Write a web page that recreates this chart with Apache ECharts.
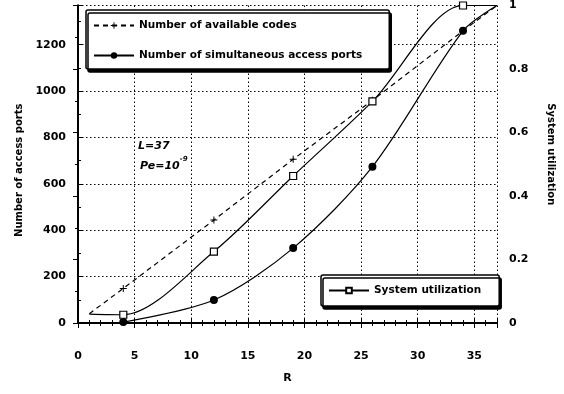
<!DOCTYPE html>
<html>
<head>
<meta charset="utf-8">
<script src="https://cdn.jsdelivr.net/npm/echarts@6/dist/echarts.min.js"></script>
<style>html,body{margin:0;padding:0;background:#fff;overflow:hidden}#c{width:564px;height:394px}</style>
</head>
<body>
<div id="c"></div>
<script>
// ---- data ----
const rValues = [1, 4, 12, 19, 26, 34, 37];
const availableCodes = [40, 149, 444, 706, 960, 1260, 1369];
const rPorts = [4, 12, 19, 26, 34, 37];
const simultaneousPorts = [4, 99, 323, 674, 1260, 1369];
const rUtil = [1, 4, 12, 19, 26, 34, 37];
const systemUtilization = [0.028, 0.026, 0.225, 0.463, 0.698, 1.0, 1.0];
const xTicks = [0, 5, 10, 15, 20, 25, 30, 35];
const leftTicks = [0, 200, 400, 600, 800, 1000, 1200];
const rightTicks = [0, 0.2, 0.4, 0.6, 0.8, 1];
const seriesNames = ['Number of available codes', 'Number of simultaneous access ports', 'System utilization'];
const xName = 'R';
const leftName = 'Number of access ports';
const rightName = 'System utilization';

const FONT = 'DejaVu Sans';
const plusPath = 'path://M-0.14,-1H0.14V-0.14H1V0.14H0.14V1H-0.14V0.14H-1V-0.14H-0.14Z';

function pts(xs, ys, markerFn) {
  return xs.map((x, i) => {
    const item = { value: [x, ys[i]] };
    if (!markerFn(i, xs.length)) item.symbol = 'none';
    return item;
  });
}
const endsHidden = (i, n) => i > 0 && i < n - 1;
const lastHidden = (i, n) => i < n - 1;

const chart = echarts.init(document.getElementById('c'), null, { renderer: 'canvas' });

const axisCommon = {
  axisLine: { show: true, lineStyle: { color: '#000', width: 2 } },
  axisTick: { show: true, inside: true, length: 5, lineStyle: { color: '#000', width: 1 } },
  minorTick: { show: true, length: 3, lineStyle: { color: '#000', width: 1 } },
  axisLabel: { color: '#000', fontFamily: FONT, fontWeight: 'bold', fontSize: 11 }
};

chart.setOption({
  animation: false,
  backgroundColor: '#fff',
  grid: { left: 78, right: 60, top: 1, bottom: 71, containLabel: false },
  xAxis: [
    Object.assign({}, axisCommon, {
      type: 'value', min: 0, max: 37, interval: 5, position: 'bottom',
      name: xName, nameLocation: 'middle', nameGap: 50,
      nameTextStyle: { color: '#000', fontFamily: FONT, fontWeight: 'bold', fontSize: 11 },
      minorTick: { show: true, splitNumber: 5, length: 3, lineStyle: { color: '#000' } },
      axisLabel: Object.assign({}, axisCommon.axisLabel, { margin: 28, showMaxLabel: false,
        formatter: v => xTicks.includes(v) ? String(v) : '' }),
      splitLine: { show: true, lineStyle: { color: '#000', type: [1.5, 2.5], width: 1 } }
    }),
    Object.assign({}, axisCommon, {
      type: 'value', min: 0, max: 37, interval: 5, position: 'top',
      minorTick: { show: true, splitNumber: 5, length: 3, lineStyle: { color: '#000' } },
      axisLabel: { show: false }, splitLine: { show: false }
    })
  ],
  yAxis: [
    Object.assign({}, axisCommon, {
      type: 'value', min: 0, max: 1369, interval: 200, position: 'left',
      name: leftName, nameLocation: 'middle', nameGap: 54,
      nameTextStyle: { color: '#000', fontFamily: FONT, fontWeight: 'bold', fontSize: 10, padding: [0, 12, 0, 0] },
      minorTick: { show: true, splitNumber: 2, length: 3, lineStyle: { color: '#000' } },
      axisLabel: Object.assign({}, axisCommon.axisLabel, { margin: 12, showMaxLabel: false, padding: [7, 0, 0, 0],
        formatter: v => leftTicks.includes(v) ? String(v) : '' }),
      splitLine: { show: true, lineStyle: { color: '#000', type: [1.5, 2.5], width: 1 } }
    }),
    Object.assign({}, axisCommon, {
      type: 'value', min: 0, max: 1, interval: 0.2, position: 'right',
      name: rightName, nameLocation: 'middle', nameGap: 49, nameRotate: -90,
      nameTextStyle: { color: '#000', fontFamily: FONT, fontWeight: 'bold', fontSize: 10, padding: [0, 20, 0, 0] },
      minorTick: { show: true, splitNumber: 2, length: 3, lineStyle: { color: '#000' } },
      axisLabel: Object.assign({}, axisCommon.axisLabel, { margin: 12, padding: [7, 0, 0, 0],
        formatter: v => rightTicks.some(t => Math.abs(t - v) < 1e-9) ? String(+v.toFixed(1)) : '' }),
      splitLine: { show: false }
    })
  ],
  legend: [
    {
      data: [seriesNames[0], seriesNames[1]], orient: 'vertical', left: 86, top: 10,
      itemWidth: 40, itemHeight: 8, itemGap: 19, padding: [10, 27, 8, 7],
      backgroundColor: '#fff', borderColor: '#000', borderWidth: 1.5, borderRadius: 2,
      shadowColor: '#000', shadowBlur: 0.01, shadowOffsetX: 2, shadowOffsetY: 3,
      textStyle: { color: '#000', fontFamily: FONT, fontWeight: 'bold', fontSize: 10.5 }
    },
    {
      data: [seriesNames[2]], orient: 'vertical', left: 321, top: 275,
      itemWidth: 40, itemHeight: 7, padding: [10, 18, 10, 7],
      backgroundColor: '#fff', borderColor: '#000', borderWidth: 1.5, borderRadius: 2,
      shadowColor: '#000', shadowBlur: 0.01, shadowOffsetX: 2, shadowOffsetY: 3,
      textStyle: { color: '#000', fontFamily: FONT, fontWeight: 'bold', fontSize: 10.5 }
    }
  ],
  graphic: [
    { type: 'text', left: 138, top: 141, style: { text: 'L=37', fill: '#000',
      font: 'italic bold 11px "DejaVu Sans"' } },
    { type: 'text', left: 140, top: 156, style: {
      text: '{b|Pe=10}{s|-9}', fill: '#000',
      rich: {
        b: { fontFamily: FONT, fontStyle: 'italic', fontWeight: 'bold', fontSize: 11, verticalAlign: 'bottom', lineHeight: 16 },
        s: { fontFamily: FONT, fontStyle: 'italic', fontWeight: 'bold', fontSize: 7, verticalAlign: 'top', lineHeight: 16 }
      } } }
  ],
  series: [
    {
      name: seriesNames[0], type: 'line', xAxisIndex: 0, yAxisIndex: 0,
      data: pts(rValues, availableCodes, endsHidden),
      symbol: plusPath, symbolSize: 7, showAllSymbol: true,
      lineStyle: { color: '#000', width: 1.2, type: [5, 4] },
      itemStyle: { color: '#000', borderWidth: 0 }, z: 3
    },
    {
      name: seriesNames[1], type: 'line', xAxisIndex: 0, yAxisIndex: 0,
      data: pts(rPorts, simultaneousPorts, lastHidden),
      smooth: 0.3,
      symbol: 'circle', symbolSize: 8, showAllSymbol: true,
      lineStyle: { color: '#000', width: 1.2 },
      itemStyle: { color: '#000' }, z: 4
    },
    {
      name: seriesNames[2], type: 'line', xAxisIndex: 0, yAxisIndex: 1,
      data: pts(rUtil, systemUtilization, endsHidden),
      smooth: 0.3,
      symbol: 'rect', symbolSize: 7, showAllSymbol: true,
      lineStyle: { color: '#000', width: 1.2 },
      itemStyle: { color: '#fff', borderColor: '#000', borderWidth: 1.2 }, z: 5
    }
  ]
});
</script>
</body>
</html>
